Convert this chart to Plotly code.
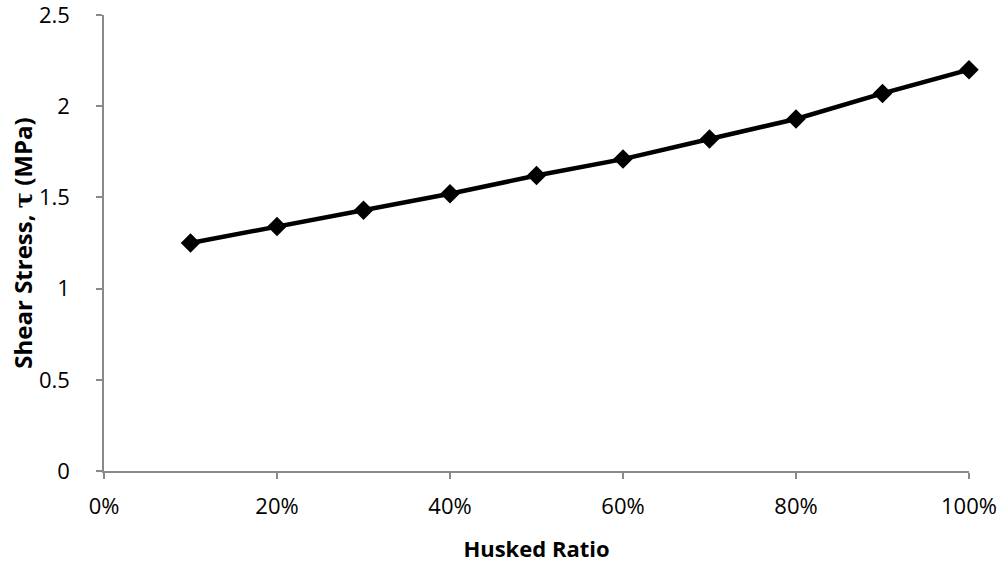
import plotly.graph_objects as go

husked_ratio = [0.1, 0.2, 0.3, 0.4, 0.5, 0.6, 0.7, 0.8, 0.9, 1.0]
shear_stress = [1.25, 1.34, 1.43, 1.52, 1.62, 1.71, 1.82, 1.93, 2.07, 2.20]
y_ticks = [0, 0.5, 1, 1.5, 2, 2.5]
y_tick_labels = ["0", "0.5", "1", "1.5", "2", "2.5"]
x_ticks = [0, 0.2, 0.4, 0.6, 0.8, 1.0]
x_tick_labels = ["0%", "20%", "40%", "60%", "80%", "100%"]

x_title = "Husked Ratio"
y_title = "Shear Stress, <span style=\"font-family:'DejaVu Serif'\">τ</span> (MPa)"

font_family = "'Open Sans', sans-serif"
axis_color = "#898989"

fig = go.Figure()
fig.add_trace(go.Scatter(
    x=husked_ratio, y=shear_stress,
    mode="lines+markers",
    line=dict(color="black", width=4.5),
    marker=dict(symbol="diamond", size=15, color="black"),
    showlegend=False,
    cliponaxis=False,
    hoverinfo="skip",
))

fig.update_layout(
    width=1001, height=563,
    margin=dict(l=104, r=32, t=15, b=92),
    paper_bgcolor="white", plot_bgcolor="white",
    font=dict(family=font_family, color="black", size=22),
    xaxis=dict(
        range=[0, 1], tickmode="array", tickvals=x_ticks, ticktext=x_tick_labels,
        showgrid=False, zeroline=False, automargin=False,
        showline=True, linecolor=axis_color, linewidth=1.5,
        ticks="outside", ticklen=6, tickcolor=axis_color, tickwidth=1.5,
        ticklabelstandoff=9,
        title=dict(text="<b>" + x_title + "</b>", font=dict(size=22), standoff=22),
    ),
    yaxis=dict(
        range=[0, 2.5], tickmode="array", tickvals=y_ticks, ticktext=y_tick_labels,
        showgrid=False, zeroline=False, automargin=False,
        showline=True, linecolor=axis_color, linewidth=1.5,
        ticks="outside", ticklen=6, tickcolor=axis_color, tickwidth=1.5,
        ticklabelstandoff=22, ticklabeloverflow="allow",
        title=dict(text="<b>" + y_title + "</b>", font=dict(size=24), standoff=0),
    ),
)

fig.write_html(
    "out.html",
    config={"displayModeBar": False},
    post_script="document.body.style.margin='0';document.body.style.padding='0';",
)
